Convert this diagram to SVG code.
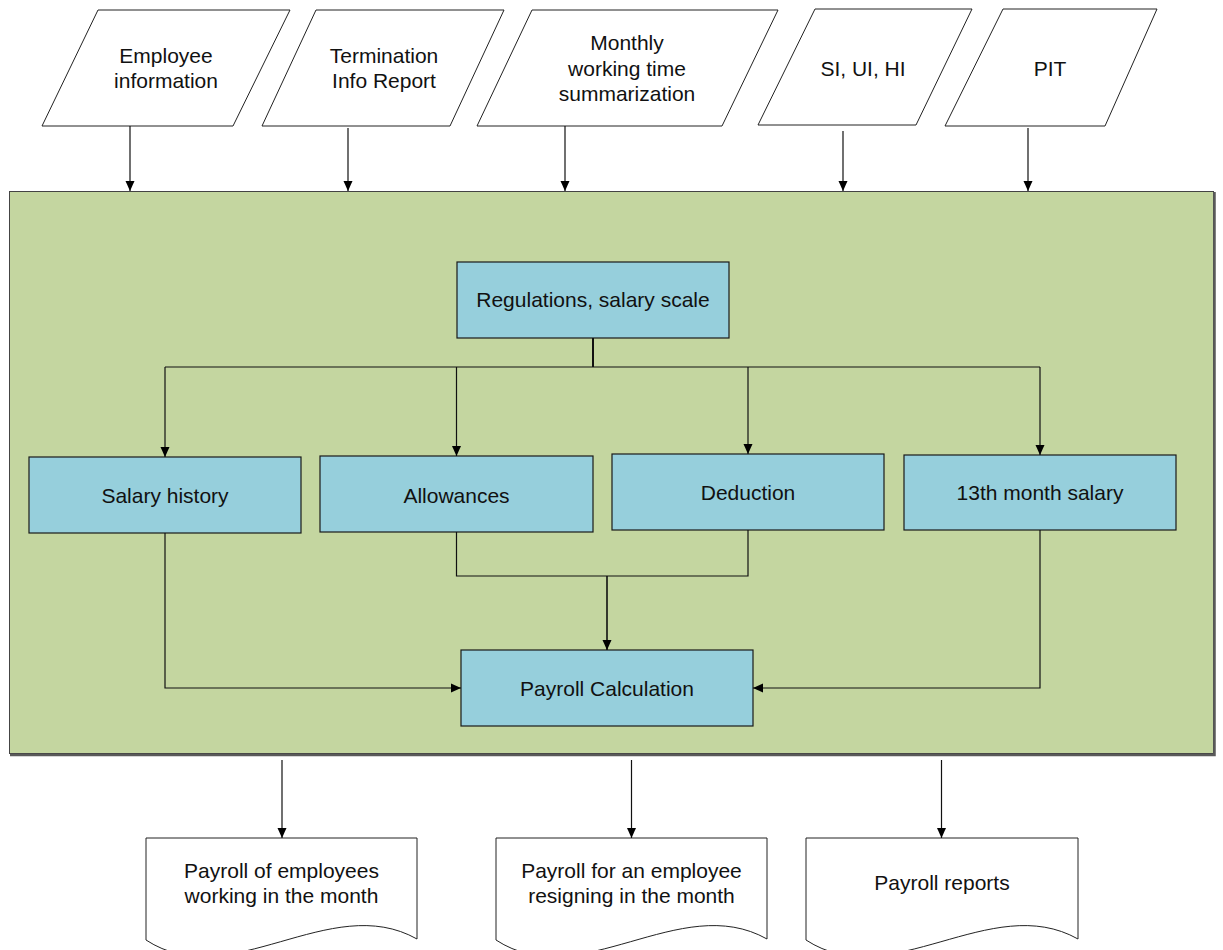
<svg xmlns="http://www.w3.org/2000/svg" width="1223" height="950" viewBox="0 0 1223 950">
<defs>
<marker id="arr" markerUnits="userSpaceOnUse" markerWidth="10" markerHeight="10" refX="10" refY="5" orient="auto">
<path d="M0,0.5 L10,5 L0,9.5 Z" fill="#000"/>
</marker>
<style>
text{font-family:"Liberation Sans",Arial,sans-serif;font-size:21px;fill:#111;text-anchor:middle}
.io{fill:#fff;stroke:#222;stroke-width:1}
.box{fill:#96CFDC;stroke:#1a1a1a;stroke-width:1.2}
.doc{fill:#fff;stroke:#222;stroke-width:1}
.ln{fill:none;stroke:#111;stroke-width:1.2}
.arw{fill:none;stroke:#111;stroke-width:1.2;marker-end:url(#arr)}
</style>
</defs>
<rect width="1223" height="950" fill="#fff"/>

<g id="process">
<rect x="9.5" y="191.5" width="1204" height="562" fill="#C4D6A0" stroke="#444" stroke-width="1"/>
<path d="M1214.5,192 V755 H10" fill="none" stroke="#5a5a5a" stroke-width="2.5"/>
</g>

<g id="in-employee">
<polygon class="io" points="98,10 290,10 233,126 42,126"/>
<text x="166" y="62.5">Employee</text>
<text x="166" y="87.5">information</text>
</g>
<g id="in-termination">
<polygon class="io" points="316,10 504,10 450,126 262,126"/>
<text x="384" y="62.5">Termination</text>
<text x="384" y="87.5">Info Report</text>
</g>
<g id="in-monthly">
<polygon class="io" points="532,10 778,10 722,126 477,126"/>
<text x="627" y="50">Monthly</text>
<text x="627" y="75.5">working time</text>
<text x="627" y="101">summarization</text>
</g>
<g id="in-si">
<polygon class="io" points="815,9 972,9 916,125 758,125"/>
<text x="863" y="76">SI, UI, HI</text>
</g>
<g id="in-pit">
<polygon class="io" points="1003,9 1157,9 1105,126 945,126"/>
<text x="1050" y="76">PIT</text>
</g>

<g id="regulations">
<rect class="box" x="457" y="262" width="272" height="76"/>
<text x="593" y="307">Regulations, salary scale</text>
</g>
<g id="salary-history">
<rect class="box" x="29" y="457" width="272" height="76"/>
<text x="165" y="503">Salary history</text>
</g>
<g id="allowances">
<rect class="box" x="320" y="456" width="273" height="76"/>
<text x="456.5" y="502.5">Allowances</text>
</g>
<g id="deduction">
<rect class="box" x="612" y="454" width="272" height="76"/>
<text x="748" y="500">Deduction</text>
</g>
<g id="thirteenth">
<rect class="box" x="904" y="455" width="272" height="75"/>
<text x="1040" y="500">13th month salary</text>
</g>
<g id="payroll-calc">
<rect class="box" x="461" y="650" width="292" height="76"/>
<text x="607" y="696">Payroll Calculation</text>
</g>

<g id="out-working">
<path class="doc" d="M146,838 H417 V939 C330,890 230,995 146,940 Z"/>
<text x="281.5" y="877.5">Payroll of employees</text>
<text x="281.5" y="903">working in the month</text>
</g>
<g id="out-resigning">
<path class="doc" d="M496,838 H767 V939 C680,890 580,995 496,940 Z"/>
<text x="631.5" y="877.5">Payroll for an employee</text>
<text x="631.5" y="903">resigning in the month</text>
</g>
<g id="out-reports">
<path class="doc" d="M806,838 H1078 V939 C991,890 890,995 806,940 Z"/>
<text x="942" y="890">Payroll reports</text>
</g>

<g id="connectors">
<line class="arw" x1="130" y1="126" x2="130" y2="191"/>
<line class="arw" x1="348" y1="128" x2="348" y2="191"/>
<line class="arw" x1="565" y1="126" x2="565" y2="191"/>
<line class="arw" x1="843" y1="131" x2="843" y2="191"/>
<line class="arw" x1="1028" y1="128" x2="1028" y2="191"/>

<line x1="593" y1="338" x2="593" y2="367" stroke="#111" stroke-width="2"/>
<line class="ln" x1="165" y1="367" x2="1040" y2="367"/>
<line class="arw" x1="165" y1="367" x2="165" y2="457"/>
<line class="arw" x1="456.5" y1="367" x2="456.5" y2="456"/>
<line class="arw" x1="748" y1="367" x2="748" y2="454"/>
<line class="arw" x1="1040" y1="367" x2="1040" y2="455"/>

<polyline class="ln" points="456.5,532 456.5,576 748,576 748,530"/>
<line class="arw" x1="607" y1="576" x2="607" y2="650" style="stroke-width:1.6"/>
<polyline class="arw" points="165,533 165,688 461,688"/>
<polyline class="arw" points="1040,530 1040,688 753,688"/>

<line class="arw" x1="282" y1="760" x2="282" y2="838"/>
<line class="arw" x1="631.5" y1="760" x2="631.5" y2="838"/>
<line class="arw" x1="941.5" y1="760" x2="941.5" y2="838"/>
</g>
</svg>
